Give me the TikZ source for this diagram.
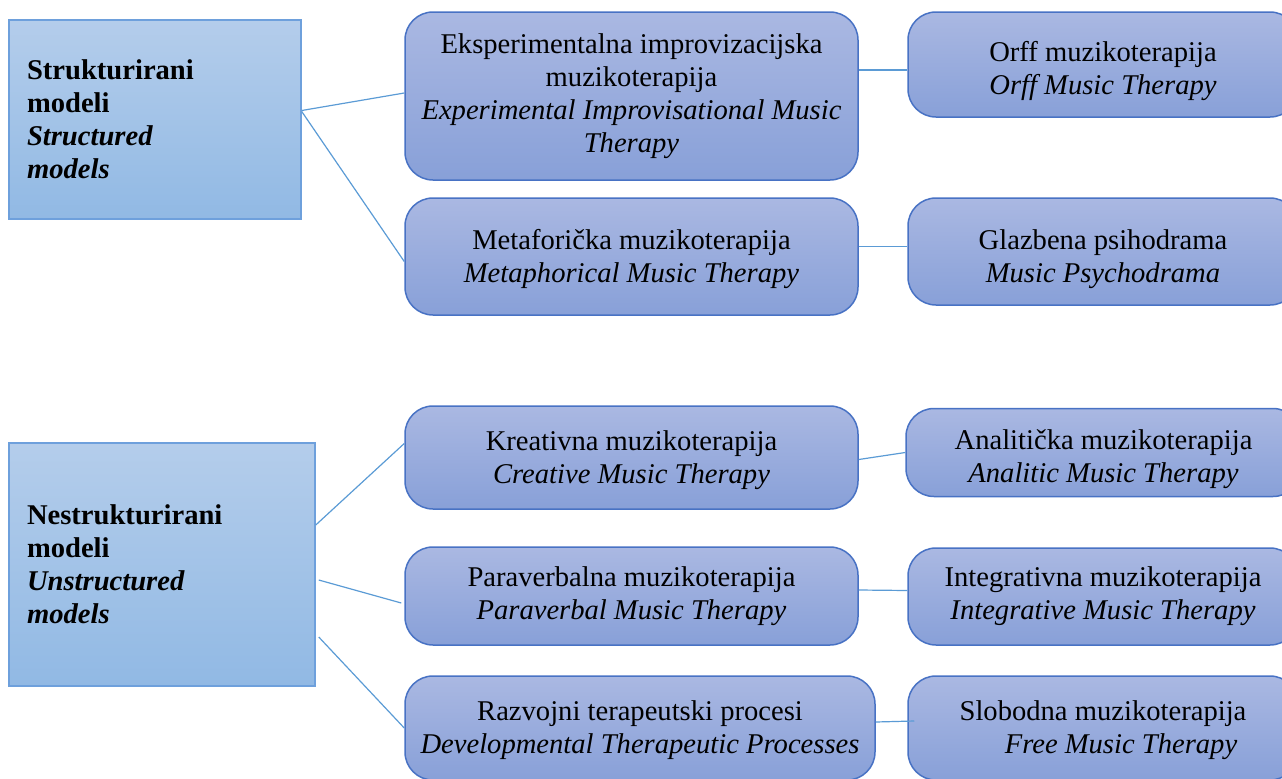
\documentclass[tikz,border=0pt]{standalone}
\usepackage{fontspec}
\setmainfont{Liberation Serif}
\definecolor{lefttop}{RGB}{180,205,235}
\definecolor{leftbot}{RGB}{145,185,228}
\definecolor{leftline}{RGB}{110,160,220}
\definecolor{midtop}{RGB}{170,184,226}
\definecolor{midbot}{RGB}{136,160,216}
\definecolor{midline}{RGB}{72,114,196}
\definecolor{linkc}{RGB}{91,155,213}
% taller first line, pushes the text down inside its box
\newcommand{\lowerby}[1]{\rule{0pt}{\dimexpr 10pt+#1\relax}}

\begin{document}
\begin{tikzpicture}[x=0.5pt, y=-0.5pt, font=\fontsize{14.3}{16.5}\selectfont,
		model/.style={draw=leftline, line width=0.75pt, top color=lefttop, bottom color=leftbot, align=left, inner xsep=9pt},
		main/.style={draw=midline, line width=0.75pt, rounded corners=14pt, top color=midtop, bottom color=midbot, align=center, inner sep=0pt},
		link/.style={draw=linkc, line width=0.6pt}]
		\useasboundingbox (0,0) rectangle (1282,778);
		\clip (0,0) rectangle (1282,778);

		% left column
		\node[model, minimum width=146pt, minimum height=99.5pt, text width=128pt] (s) at (155,119.5) {\textbf{Strukturirani}\\\textbf{modeli}\\\textbf{\textit{Structured}}\\\textbf{\textit{models}}};
		\node[model, minimum width=153pt, minimum height=121.5pt, text width=135pt] (n) at (162,564.5) {\textbf{Nestrukturirani}\\\textbf{modeli}\\\textbf{\textit{Unstructured}}\\\textbf{\textit{models}}};

		% middle column
		\node[main, minimum width=226.5pt, minimum height=84pt] (m1) at (631.5,96) {Eksperimentalna improvizacijska\\muzikoterapija\\\textit{Experimental Improvisational Music}\\\textit{Therapy}};
		\node[main, minimum width=226.5pt, minimum height=58.5pt] (m2) at (631.5,256.5) {\lowerby{3pt}Metaforička muzikoterapija\\\textit{Metaphorical Music Therapy}};
		\node[main, minimum width=226.5pt, minimum height=51.5pt] (m3) at (631.5,457.5) {\lowerby{3pt}Kreativna muzikoterapija\\\textit{Creative Music Therapy}};
		\node[main, minimum width=226.5pt, minimum height=49pt] (m4) at (631.5,596) {Paraverbalna muzikoterapija\\\textit{Paraverbal Music Therapy}};
		\node[main, minimum width=235pt, minimum height=52pt] (m5) at (640,728) {\lowerby{2pt}Razvojni terapeutski procesi\\\textit{Developmental Therapeutic Processes}};

		% right column
		\node[main, minimum width=195pt, minimum height=52.5pt] (r1) at (1103,64.5) {\lowerby{7pt}Orff muzikoterapija\\\textit{Orff Music Therapy}};
		\node[main, minimum width=195pt, minimum height=53.5pt] (r2) at (1103,251.5) {\lowerby{8pt}Glazbena psihodrama\\\textit{Music Psychodrama}};
		\node[main, minimum width=197.5pt, minimum height=44pt] (r3) at (1103.5,452.5) {\lowerby{7pt}Analitička muzikoterapija\\\textit{Analitic Music Therapy}};
		\node[main, minimum width=195pt, minimum height=48.5pt] (r4) at (1103,596.5) {Integrativna muzikoterapija\\\textit{Integrative Music Therapy}};
		\node[main, minimum width=195pt, minimum height=52pt] (r5) at (1103,728) {\lowerby{2pt}Slobodna muzikoterapija\\\hspace*{18pt}\textit{Free Music Therapy}};

		% links
		\draw[link] ([yshift=4.5pt]s.east) -- ([yshift=1.5pt]m1.west);
		\draw[link] ([yshift=4pt]s.east) -- ([yshift=-2.5pt]m2.west);
		\draw[link] ([yshift=19.75pt]n.east) -- ([yshift=7pt]m3.west);
		\draw[link] ([xshift=1.5pt,yshift=-7.75pt]n.east) -- ([xshift=-1.5pt,yshift=-3.5pt]m4.west);
		\draw[link] ([xshift=1.5pt,yshift=-36.25pt]n.east) -- (m5.west);
		\draw[link] ([yshift=-2.75pt]m1.east |- r1.west) -- ([yshift=-2.75pt]r1.west);
		\draw[link] ([yshift=2.5pt]m2.east |- r2.west) -- ([yshift=2.5pt]r2.west);
		\draw[link] ([yshift=-1pt]m3.east) -- (r3.west);
		\draw[link] ([yshift=3pt]m4.east) -- ([yshift=3pt]r4.west);
		\draw[link] ([yshift=3pt]m5.east) -- ([xshift=3.5pt,yshift=3.5pt]r5.west);
	\end{tikzpicture}
\end{document}
